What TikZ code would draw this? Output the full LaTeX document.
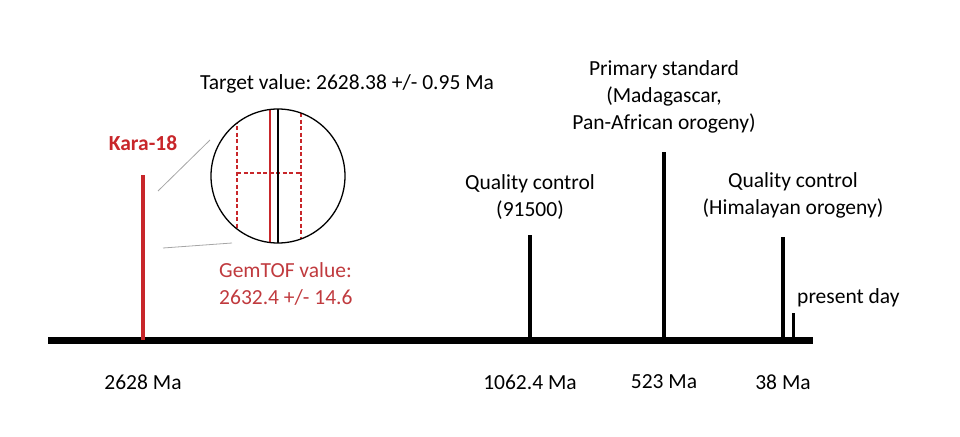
\documentclass[tikz,border=0pt]{standalone}
\usepackage{fontspec}
\setmainfont{Carlito}
\frenchspacing
\usetikzlibrary{positioning}
\definecolor{karared}{RGB}{200,38,42}
\definecolor{gemred}{RGB}{192,58,62}
\tikzset{
  axisline/.style={line width=7pt},
  tickline/.style={line width=4pt},
  lbl/.style={font=\fontsize{21.5}{27}\selectfont, align=center, inner sep=0pt},
  zoomline/.style={black!35, line width=0.8pt},
  errline/.style={karared, dashed, dash pattern=on 4pt off 2.5pt, line width=1.2pt}
}

\begin{document}
\begin{tikzpicture}[x=1pt, y=-1pt]
\useasboundingbox (0,0) rectangle (960,436);
% time axis
\coordinate (ax0) at (48,340); \coordinate (ax1) at (813,340);
\draw[axisline] (ax0) -- (ax1);
% ticks
\coordinate (k0) at (143,340); \coordinate (k1) at (143,175);
\coordinate (q0) at (530,340); \coordinate (q1) at (530,235);
\coordinate (p0) at (664,340); \coordinate (p1) at (664,152);
\coordinate (h0) at (783,340); \coordinate (h1) at (783,237);
\coordinate (d0) at (793,340); \coordinate (d1) at (793,313);
\draw[tickline, karared] (k0) -- (k1);
\draw[tickline] (q0) -- (q1);
\draw[tickline] (p0) -- (p1);
\draw[tickline] (h0) -- (h1);
\draw[line width=3pt] (d0) -- (d1);
% ages
\node[lbl] (age1) at (143,382) {2628 Ma};
\node[lbl] (age2) at (530,382) {1062.4 Ma};
\node[lbl] (age3) at (664,382) {523 Ma};
\node[lbl] (age4) at (783,382) {38 Ma};
% labels
\node[lbl, karared, font=\fontsize{21.5}{27}\selectfont\bfseries] (kara) at (143,143) {Kara-18};
\node[lbl] (qc1) at (530,197) {Quality control\\(91500)};
\node[lbl] (prim) at (664,97) {Primary standard\\(Madagascar,\\Pan-African orogeny)};
\node[lbl] (qc2) at (793,195) {Quality control\\(Himalayan orogeny)};
\node[lbl, anchor=west] (now) at (797,298) {present day};
\node[lbl] (target) at (347,84) {Target value: 2628.38 +/- 0.95 Ma};
\node[lbl, gemred, align=left, anchor=west] (gem) at (219,284) {GemTOF value:\\2632.4 +/- 14.6};
% magnifier
\coordinate (lc) at (278,176);
\coordinate (z1) at (158,191); \coordinate (z2) at (210,140);
\coordinate (z3) at (163,248); \coordinate (z4) at (232,243);
\draw[zoomline] (z1) -- (z2);
\draw[zoomline] (z3) -- (z4);
\begin{scope}
  \clip (lc) circle (67pt);
  \draw[errline] (237,100) -- (237,250);
  \draw[errline] (301,100) -- (301,250);
  \draw[errline] (237,173) -- (301,173);
  \draw[karared, line width=1.8pt] (270,100) -- (270,250);
  \draw[line width=2pt] (278,100) -- (278,250);
\end{scope}
\node[draw, circle, line width=1.3pt, minimum size=134pt, inner sep=0pt] (lens) at (lc) {};
\end{tikzpicture}
\end{document}
